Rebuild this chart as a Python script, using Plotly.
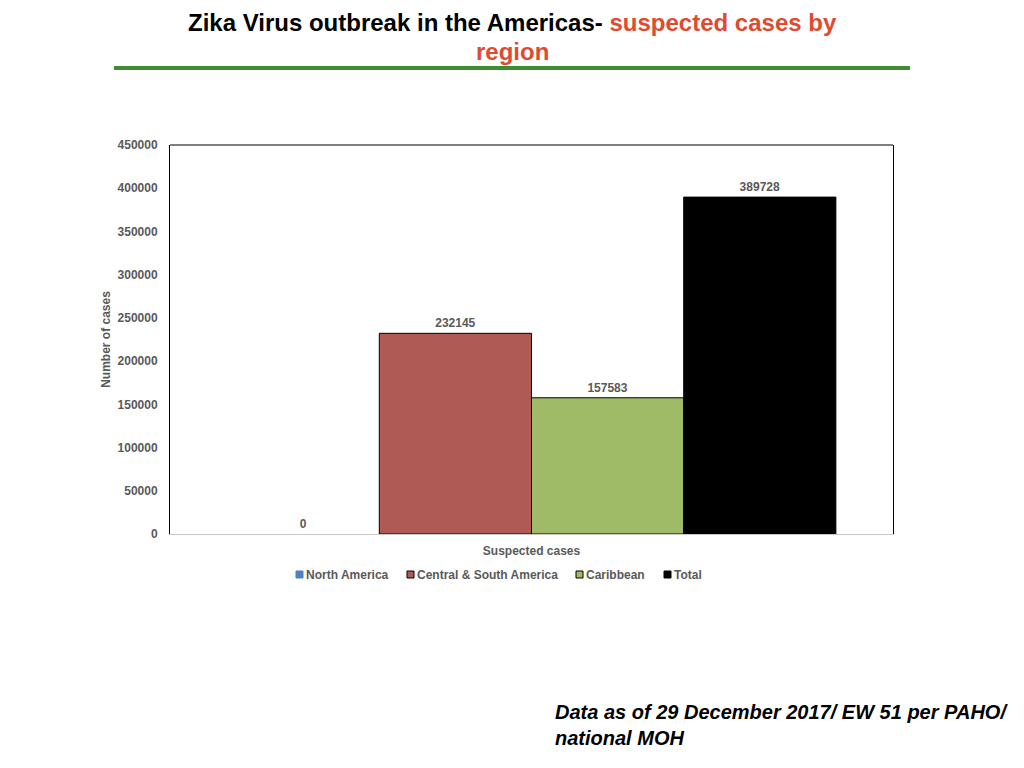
import plotly.graph_objects as go

categories = ["Suspected cases"]
series_names = ["North America", "Central & South America", "Caribbean", "Total"]
series_values = [[0], [232145], [157583], [389728]]
series_colors = ["#4F81BD", "#B05A55", "#A0BB67", "#000000"]
y_ticks = [0, 50000, 100000, 150000, 200000, 250000, 300000, 350000, 400000, 450000]

GRAY = "#595959"
FONT = "Liberation Sans"

# screen -> paper helpers (page has an 8px body offset; plot area spans 170..893 x 145..534)
PX0, PX1, PY0, PY1 = 170, 893, 534, 145
def px(x):
    return (x - PX0) / (PX1 - PX0)
def py(y):
    return (PY0 - y) / (PY0 - PY1)

fig = go.Figure()
for name, vals, col in zip(series_names, series_values, series_colors):
    fig.add_trace(go.Bar(
        name=name, x=categories, y=vals,
        marker=dict(color=col, line=dict(color="#000000", width=0 if vals[0] == 0 else 1)),
        text=[str(v) for v in vals], textposition="outside",
        textfont=dict(family=FONT, size=12, color=GRAY, weight="bold"),
        cliponaxis=False, showlegend=False,
    ))

fig.update_layout(
    width=1024, height=768,
    margin=dict(l=162, r=139, t=137, b=242),
    paper_bgcolor="white", plot_bgcolor="white",
    barmode="group", bargap=0.158, bargroupgap=0,
    showlegend=False,
    font=dict(family=FONT),
    xaxis=dict(showline=True, linecolor="#c8c8c8", linewidth=1, showgrid=False,
               ticks="", ticklabelstandoff=6,
               tickfont=dict(family=FONT, size=12, color=GRAY, weight="bold"),
               fixedrange=True),
    yaxis=dict(range=[0, 450000], tickvals=y_ticks, ticktext=[str(v) for v in y_ticks],
               showline=True, linecolor="#000000", linewidth=1, mirror=True,
               showgrid=False, zeroline=False, ticks="", ticklabelstandoff=9,
               tickfont=dict(family=FONT, size=12, color=GRAY, weight="bold"),
               title=dict(text="Number of cases", standoff=4,
                          font=dict(family=FONT, size=12, color=GRAY, weight="bold"))),
)

# top border of plot area
fig.add_shape(type="line", xref="paper", yref="paper", x0=0, x1=1, y0=1, y1=1,
              line=dict(color="#000000", width=1))
# green rule under title
fig.add_shape(type="line", xref="paper", yref="paper",
              x0=px(114), x1=px(910), y0=py(68), y1=py(68),
              line=dict(color="#3E8E2F", width=4))

# legend (small squares + labels)
legend_x = [296, 407, 576, 664]
for name, col, lx in zip(series_names, series_colors, legend_x):
    fig.add_shape(type="rect", xref="paper", yref="paper",
                  x0=px(lx), x1=px(lx + 7), y0=py(578), y1=py(571),
                  fillcolor=col,
                  line=dict(color="#000000" if name != "North America" else col, width=1))
    fig.add_annotation(xref="paper", yref="paper", x=px(lx + 8), y=py(575),
                       xanchor="left", yanchor="middle", showarrow=False,
                       text=name, font=dict(family=FONT, size=12, color=GRAY, weight="bold"))

fig.add_annotation(xref="paper", yref="paper", x=px(512), y=py(22),
                   xanchor="center", yanchor="middle", showarrow=False,
                   text="<b>Zika Virus outbreak in the Americas- <span style='color:#E04A30'>suspected cases by</span></b>",
                   font=dict(family=FONT, size=24, color="#000000"))
fig.add_annotation(xref="paper", yref="paper", x=px(512), y=py(52),
                   xanchor="center", yanchor="middle", showarrow=False,
                   text="<b>region</b>",
                   font=dict(family=FONT, size=24, color="#E04A30"))
fig.add_annotation(xref="paper", yref="paper", x=px(553), y=py(699),
                   xanchor="left", yanchor="top", showarrow=False, align="left",
                   text="<b><i>Data as of 29 December 2017/ EW 51 per PAHO/<br>national MOH</i></b>",
                   font=dict(family=FONT, size=20, color="#000000"))

fig.write_html("out.html")
